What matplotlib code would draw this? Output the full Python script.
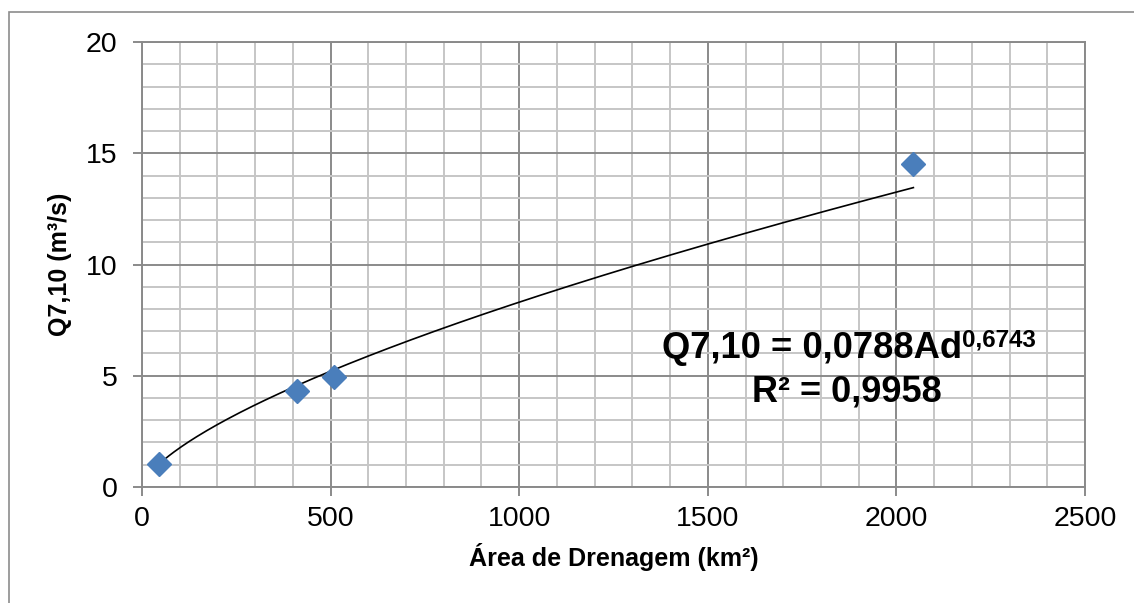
import numpy as np
import matplotlib.pyplot as plt
from matplotlib.ticker import MultipleLocator
from matplotlib.patches import Rectangle

plt.rcParams['font.family'] = ['Liberation Sans', 'DejaVu Sans']

# dados observados
area_km2 = [45, 410, 508, 2045]
q710 = [1.05, 4.33, 4.93, 14.5]

# linha de tendencia (potencia) exibida no grafico
coef_a = 0.0788
coef_b = 0.6743
r2 = 0.9958

major_grid = '#8a8a8a'
minor_grid = '#c6c6c6'

fig = plt.figure(figsize=(11.34, 6.03), dpi=100)
ax = fig.add_axes([0.1252, 0.1924, 0.9568 - 0.1252, 0.9303 - 0.1924])

# borda do grafico (estilo Excel)
fig.patches.append(Rectangle((9 / 1134, -0.1), 1.2, 1 - 12 / 603 + 0.1,
                             transform=fig.transFigure, fill=False,
                             edgecolor='#8c8c8c', lw=1.2))

xs = np.linspace(min(area_km2), max(area_km2), 300)
ax.plot(xs, coef_a * xs ** coef_b, color='black', lw=1.2, zorder=3)
ax.plot(area_km2, q710, 'D', color='#4a7ebb', markersize=12.5, mec='#4a7ebb', zorder=4)

ax.set_xlim(0, 2500)
ax.set_ylim(0, 20)
ax.xaxis.set_major_locator(MultipleLocator(500))
ax.xaxis.set_minor_locator(MultipleLocator(100))
ax.yaxis.set_major_locator(MultipleLocator(5))
ax.yaxis.set_minor_locator(MultipleLocator(1))
ax.grid(which='minor', color=minor_grid, lw=1.4, zorder=0)
ax.grid(which='major', color=major_grid, lw=1.4, zorder=1)
ax.set_axisbelow(True)
for s in ax.spines.values():
    s.set_color(major_grid)
    s.set_linewidth(1.4)

ax.tick_params(which='major', direction='out', length=6.5, width=1.4,
               color=major_grid, labelsize=20.5)
ax.tick_params(axis='x', which='major', pad=7)
ax.tick_params(axis='y', which='major', pad=11)
ax.tick_params(which='minor', length=0)

ax.set_xlabel('Área de Drenagem (km²)', fontsize=18, fontweight='bold', labelpad=8)
ax.set_ylabel('Q7,10 (m³/s)', fontsize=18, fontweight='bold', labelpad=10)

# equacao
eq = ax.text(1378, 5.80, 'Q7,10 = 0,0788Ad', fontsize=26.2, fontweight='bold',
             va='baseline', ha='left', zorder=5)
ax.annotate('0,6743', xy=(1, 1), xycoords=eq, xytext=(0, 1.5),
            textcoords='offset points', fontsize=17.4, fontweight='bold',
            va='top', ha='left', zorder=5)
ax.text(1870, 3.82, 'R² = ' + f'{r2:.4f}'.replace('.', ','), fontsize=26,
        fontweight='bold', va='baseline', ha='center', zorder=5)

fig.savefig('out.png', dpi=100)
